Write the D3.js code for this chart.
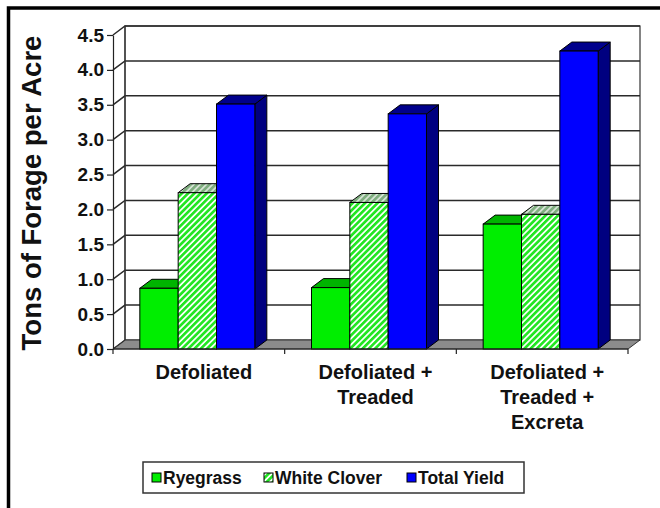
<!DOCTYPE html>
<html>
<head>
<meta charset="utf-8">
<script src="https://cdn.jsdelivr.net/npm/d3@7"></script>
<style>
  html, body { margin: 0; padding: 0; background: #fff; }
  svg { display: block; }
  text { font-family: "Liberation Sans", Arial, sans-serif; font-weight: bold; fill: #111; }
</style>
</head>
<body>
<svg id="chart" width="660" height="508"></svg>
<script>
// Forage yield by grazing treatment (tons per acre)
const categoryLines = [
  ["Defoliated"],
  ["Defoliated +", "Treaded"],
  ["Defoliated +", "Treaded +", "Excreta"]
];
const categories = categoryLines.map(l => l.join(" "));
const seriesNames = ["Ryegrass", "White Clover", "Total Yield"];
const ryegrass    = [0.87, 0.88, 1.79];
const whiteClover = [2.24, 2.10, 1.93];
const totalYield  = [3.51, 3.37, 4.27];
const yTicks = [0, 0.5, 1.0, 1.5, 2.0, 2.5, 3.0, 3.5, 4.0, 4.5];
const yTitle = "Tons of Forage per Acre";

const seriesValues = [ryegrass, whiteClover, totalYield];
const rows = categories.map((c, i) => ({
  category: c,
  lines: categoryLines[i],
  values: seriesNames.map((s, j) => ({ series: s, value: seriesValues[j][i] }))
}));

const svg = d3.select("#chart");
const W = 660, H = 508;

// depth offset of the 3-D projection
const DX = 12, DY = -9;

const plotLeft = 113, plotRight = 628;
const y = d3.scaleLinear().domain([0, 4.5]).range([349, 35]);
const x0 = d3.scaleBand().domain(categories).range([plotLeft, plotRight]).padding(0);
const groupWidth = x0.bandwidth() * 0.67;
const x1 = d3.scaleBand().domain(seriesNames).range([0, groupWidth]).padding(0);

const defs = svg.append("defs");
function hatch(id, stripe, bg) {
  const p = defs.append("pattern")
    .attr("id", id).attr("patternUnits", "userSpaceOnUse")
    .attr("width", 4.4).attr("height", 4.4)
    .attr("patternTransform", "rotate(45)");
  p.append("rect").attr("width", 4.4).attr("height", 4.4).attr("fill", bg);
  p.append("rect").attr("width", 2.7).attr("height", 4.4).attr("fill", stripe);
}
hatch("hatchFront", "#22e622", "#ffffff");
hatch("hatchTop", "#7fae7f", "#d8e4d8");
hatch("hatchSide", "#1f8f1f", "#a0c0a0");

const styles = {
  "Ryegrass":     { front: "#00ee00", top: "#00b400", side: "#009000" },
  "White Clover": { front: "url(#hatchFront)", top: "url(#hatchTop)", side: "url(#hatchSide)" },
  "Total Yield":  { front: "#0000ff", top: "#00008c", side: "#000080" }
};

// background
svg.append("rect").attr("width", W).attr("height", H).attr("fill", "#fff");

const g = svg.append("g");
const y0 = y(0);

// back wall
g.append("rect")
  .attr("x", plotLeft + DX).attr("y", y(4.5) + DY)
  .attr("width", plotRight - plotLeft).attr("height", y0 - y(4.5))
  .attr("fill", "#fff").attr("stroke", "#333").attr("stroke-width", 1.2);

// floor
const floorPts = [[plotLeft, y0], [plotRight, y0], [plotRight + DX, y0 + DY], [plotLeft + DX, y0 + DY]];
g.append("path")
  .attr("d", d3.line()(floorPts) + "Z")
  .attr("fill", "#8c8c8c").attr("stroke", "#333").attr("stroke-width", 1);

// gridlines: slanted on the side wall, then across the back wall
yTicks.forEach(t => {
  if (t === 0) return;
  g.append("path")
    .attr("d", d3.line()([[plotLeft, y(t)], [plotLeft + DX, y(t) + DY], [plotRight + DX, y(t) + DY]]))
    .attr("fill", "none").attr("stroke", "#2a2a2a").attr("stroke-width", 1.5);
});
// back-left wall edge
g.append("line")
  .attr("x1", plotLeft + DX).attr("x2", plotLeft + DX)
  .attr("y1", y(4.5) + DY).attr("y2", y0 + DY)
  .attr("stroke", "#333").attr("stroke-width", 1.2);
g.append("line")
  .attr("x1", plotLeft).attr("x2", plotLeft + DX)
  .attr("y1", y0).attr("y2", y0 + DY)
  .attr("stroke", "#333").attr("stroke-width", 1.2);

// bars
rows.forEach(row => {
  const gx = x0(row.category) + (x0.bandwidth() - groupWidth) / 2 - 1.5;
  row.values.forEach(v => {
    const bx = gx + x1(v.series), bw = x1.bandwidth();
    const top = y(v.value);
    const st = styles[v.series];
    const bar = g.append("g");
    bar.append("path")
      .attr("d", d3.line()([[bx + bw, top], [bx + bw + DX, top + DY], [bx + bw + DX, y0 + DY], [bx + bw, y0]]) + "Z")
      .attr("fill", st.side).attr("stroke", "#000").attr("stroke-width", 1);
    bar.append("path")
      .attr("d", d3.line()([[bx, top], [bx + bw, top], [bx + bw + DX, top + DY], [bx + DX, top + DY]]) + "Z")
      .attr("fill", st.top).attr("stroke", "#000").attr("stroke-width", 1);
    bar.append("rect")
      .attr("x", bx).attr("y", top).attr("width", bw).attr("height", y0 - top)
      .attr("fill", st.front).attr("stroke", "#000").attr("stroke-width", 1);
  });
});

// y axis
const yAxis = d3.axisLeft(y).tickValues(yTicks).tickFormat(d3.format(".1f"))
  .tickSize(6).tickSizeOuter(0).tickPadding(3);
const ya = svg.append("g").attr("transform", `translate(${plotLeft},0)`).call(yAxis);
ya.selectAll("path, line").attr("stroke", "#222").attr("stroke-width", 1.2);
ya.selectAll("text").attr("font-size", 19).attr("font-family", "Liberation Sans, Arial, sans-serif")
  .attr("font-weight", "bold").attr("fill", "#111");

// x axis baseline and category dividers
const xa = svg.append("g");
xa.append("line").attr("x1", plotLeft).attr("x2", plotRight).attr("y1", y0).attr("y2", y0)
  .attr("stroke", "#222").attr("stroke-width", 1.2);
const dividers = categories.map(c => x0(c)).concat([plotRight]);
xa.selectAll("line.tick").data(dividers).join("line")
  .attr("class", "tick")
  .attr("x1", d => d).attr("x2", d => d).attr("y1", y0).attr("y2", y0 + 5)
  .attr("stroke", "#222").attr("stroke-width", 1.2);

// category labels
rows.forEach(row => {
  const cx = x0(row.category) + x0.bandwidth() / 2 + 5;
  const t = xa.append("text").attr("text-anchor", "middle").attr("font-size", 20);
  row.lines.forEach((ln, i) => {
    t.append("tspan").attr("x", cx).attr("y", 379 + i * 25).text(ln);
  });
});

// y title
svg.append("text")
  .attr("transform", `translate(41,193) rotate(-90)`)
  .attr("text-anchor", "middle").attr("font-size", 27.5)
  .text(yTitle);

// legend
const legend = svg.append("g");
legend.append("rect").attr("x", 143).attr("y", 462).attr("width", 381).attr("height", 31)
  .attr("fill", "#fff").attr("stroke", "#333").attr("stroke-width", 1.5);
const legendX = [152, 264, 407];
seriesNames.forEach((s, i) => {
  legend.append("rect").attr("x", legendX[i]).attr("y", 473).attr("width", 9).attr("height", 9)
    .attr("fill", styles[s].front).attr("stroke", "#000").attr("stroke-width", 1);
  legend.append("text").attr("x", legendX[i] + 11).attr("y", 484).attr("font-size", 17.5).text(s);
});

// outer frame
svg.append("rect").attr("x", 8.5).attr("y", 8).attr("width", W + 20).attr("height", H + 20)
  .attr("fill", "none").attr("stroke", "#000").attr("stroke-width", 3.5);
</script>
</body>
</html>
